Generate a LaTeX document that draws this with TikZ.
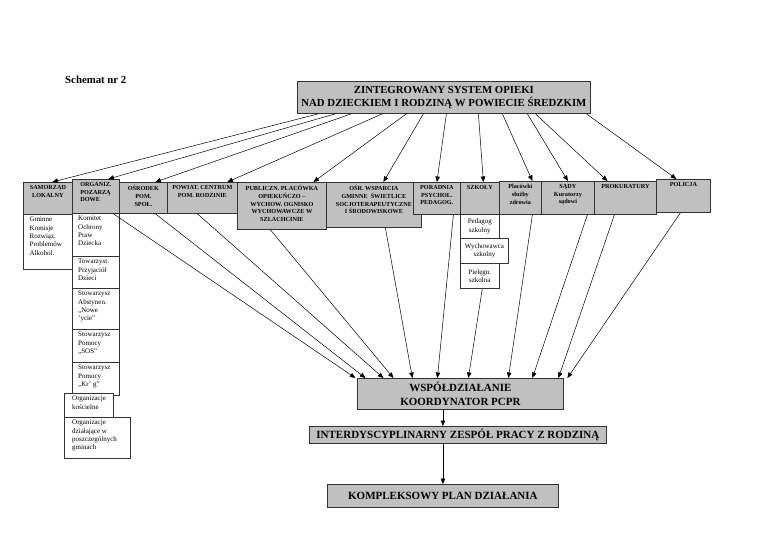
\documentclass[tikz,border=0pt]{standalone}
\usepackage{fontspec}
\setmainfont{Liberation Serif}
\usetikzlibrary{arrows.meta}
\definecolor{boxgray}{RGB}{192,192,192}
\tikzset{
	hdr/.style={draw=black!80, fill=boxgray, line width=0.8pt, inner sep=0pt, anchor=north west},
	cell/.style={draw=black!80, fill=white, line width=0.6pt, inner sep=0pt, anchor=north west},
	htext/.style={anchor=north, yshift=-2.5pt, inner sep=0.5pt, align=center, font=\bfseries\fontsize{6.2}{7.8}\selectfont},
	ctext/.style={anchor=north west, xshift=6pt, yshift=-2.5pt, inner sep=0.5pt, align=left, font=\fontsize{7}{8.3}\selectfont},
	arr/.style={-{Triangle[length=5.5pt,width=4.5pt]}, line width=0.5pt}
}

\begin{document}
\begin{tikzpicture}[x=1pt, y=-1pt]
\useasboundingbox (0,0) rectangle (768,543);

\node[anchor=west, inner sep=0pt, font=\bfseries\fontsize{10.8}{13}\selectfont] (title) at (65,80) {Schemat nr 2};

\node[hdr, minimum width=293pt, minimum height=32pt, align=center, font=\bfseries\fontsize{10.8}{13}\selectfont] (main) at (297,81) {ZINTEGROWANY SYSTEM OPIEKI\\NAD DZIECKIEM I RODZINĄ W POWIECIE ŚREDZKIM};

\node[hdr, minimum width=49pt, minimum height=32pt, label={[htext]north:{SAMORZĄD\\LOKALNY}}] (samorz) at (23,182) {};
\node[cell, minimum width=49pt, minimum height=55pt, label={[ctext]north west:{Gminne\\Komisje\\Rozwiąz.\\Problemów\\Alkohol.}}] (gminne) at (23,214) {};

\node[hdr, minimum width=47pt, minimum height=34pt, label={[htext, align=left]north:{ORGANIZ.\\POZARZĄ\\DOWE}}] (organiz) at (72,179) {};
\node[cell, minimum width=47.5pt, minimum height=43pt, label={[ctext]north west:{Komitet\\Ochrony\\Praw\\Dziecka}}] (komitet) at (71.5,213) {};
\node[cell, minimum width=47.5pt, minimum height=32pt, label={[ctext]north west:{Towarzyst.\\Przyjaciół\\Dzieci}}] (towarz) at (71.5,256) {};
\node[cell, minimum width=47.5pt, minimum height=41pt, label={[ctext]north west:{Stowarzysz\\Abstynen.\\„Nowe\\’ycie”}}] (abstyn) at (71.5,288) {};
\node[cell, minimum width=47.5pt, minimum height=33pt, label={[ctext]north west:{Stowarzysz\\Pomocy\\„SOS”}}] (sos) at (71.5,329) {};
\node[cell, minimum width=47.5pt, minimum height=33pt, label={[ctext]north west:{Stowarzysz\\Pomocy\\„Kr’ g”}}] (krag) at (71.5,362) {};
\node[cell, minimum width=49pt, minimum height=24pt, label={[ctext, xshift=1.5pt]north west:{Organizacje\\kościelne}}] (koscielne) at (64,393) {};
\node[cell, minimum width=66pt, minimum height=41pt, label={[ctext, xshift=1.5pt]north west:{Organizacje\\działające w\\poszczególnych\\gminach}}] (dzialajace) at (64,417) {};

\node[hdr, minimum width=48pt, minimum height=31pt, label={[htext]north:{OŚRODEK\\POM.\\SPOŁ.}}] (osrodek) at (119,182) {};
\node[hdr, minimum width=70pt, minimum height=31pt, label={[htext]north:{POWIAT. CENTRUM\\POM. RODZINIE}}] (powiat) at (167,182) {};
\node[hdr, minimum width=89pt, minimum height=47pt, label={[htext]north:{PUBLICZN. PLACÓWKA\\OPIEKUŃCZO –\\WYCHOW. OGNISKO\\WYCHOWAWCZE W\\SZLACHCINIE}}] (publiczn) at (237,182) {};
\node[hdr, minimum width=95pt, minimum height=45pt, label={[htext]north:{OŚR. WSPARCIA\\GMINNE \ ŚWIETLICE\\SOCJOTERAPEUTYCZNE\\I ŚRODOWISKOWE}}] (osr) at (326,182) {};
\node[hdr, minimum width=47pt, minimum height=32pt, label={[htext]north:{PORADNIA\\PSYCHOL.\\PEDAGOG.}}] (poradnia) at (413,182) {};

\node[hdr, minimum width=39pt, minimum height=32pt, label={[htext]north:{SZKOŁY}}] (szkoly) at (460,182) {};
\node[cell, minimum width=39pt, minimum height=24pt, align=center, font=\fontsize{7}{8.3}\selectfont] (pedagog) at (460,214) {Pedagog\\szkolny};
\node[cell, minimum width=39pt, minimum height=25pt, align=center, font=\fontsize{7}{8.3}\selectfont] (pielegn) at (460,263) {Pielęgn.\\szkolna};
\node[cell, line width=0.9pt, minimum width=48pt, minimum height=25pt, align=center, font=\fontsize{7}{8.3}\selectfont] (wychow) at (460,238) {Wychowawca\\szkolny};

\node[hdr, minimum width=42pt, minimum height=33pt, label={[htext]north:{Placówki\\służby\\zdrowia}}] (placowki) at (499,181) {};
\node[hdr, minimum width=53pt, minimum height=33pt, label={[htext]north:{SĄDY\\Kuratorzy\\sądowi}}] (sady) at (541,181) {};
\node[hdr, minimum width=62pt, minimum height=33pt, label={[htext]north:{PROKURATURY}}] (prokur) at (594,181) {};
\node[hdr, minimum width=54pt, minimum height=33pt, label={[htext]north:{POLICJA}}] (policja) at (656,179) {};

\node[hdr, minimum width=206pt, minimum height=31pt, align=center, font=\bfseries\fontsize{11}{14}\selectfont] (wsp) at (357,378) {WSPÓŁDZIAŁANIE\\KOORDYNATOR PCPR};
\node[hdr, minimum width=297pt, minimum height=17pt, font=\bfseries\fontsize{11}{14}\selectfont] (interd) at (309,426) {INTERDYSCYPLINARNY ZESPÓŁ PRACY Z RODZINĄ};
\node[hdr, minimum width=231pt, minimum height=23pt, font=\bfseries\fontsize{11}{14}\selectfont] (kompl) at (327,484) {KOMPLEKSOWY PLAN DZIAŁANIA};

\draw[arr] ([xshift=-125.5pt]main.south) -- ([xshift=4.5pt]samorz.north);
\draw[arr] ([xshift=-108.5pt]main.south) -- ([xshift=12.5pt]organiz.north);
\draw[arr] ([xshift=-92.5pt]main.south) -- ([xshift=12pt]osrodek.north);
\draw[arr] ([xshift=-61.5pt]main.south) -- ([xshift=25pt]powiat.north);
\draw[arr] ([xshift=-37.5pt]main.south) -- ([xshift=31.5pt]publiczn.north);
\draw[arr] ([xshift=-20.5pt]main.south) -- ([xshift=9.5pt]osr.north);
\draw[arr] ([xshift=2.5pt]main.south) -- (poradnia.north);
\draw[arr] ([xshift=34.5pt]main.south) -- ([xshift=3.5pt]szkoly.north);
\draw[arr] ([xshift=58.5pt]main.south) -- ([xshift=12pt]placowki.north);
\draw[arr] ([xshift=83.5pt]main.south) -- (sady.north);
\draw[arr] ([xshift=91.5pt]main.south) -- ([xshift=-18pt]prokur.north);
\draw[arr] ([xshift=142.5pt]main.south) -- ([xshift=-7pt]policja.north);

\draw[arr] ([xshift=17.5pt]organiz.south) -- ([xshift=-105pt]wsp.north);
\draw[arr] ([xshift=12pt]osrodek.south) -- ([xshift=-95pt]wsp.north);
\draw[arr] ([xshift=-5pt]powiat.south) -- ([xshift=-77pt]wsp.north);
\draw[arr] ([xshift=-11.5pt]publiczn.south) -- ([xshift=-67pt]wsp.north);
\draw[arr] ([xshift=11.5pt]osr.south) -- ([xshift=-48pt]wsp.north);
\draw[arr] ([xshift=16.5pt]poradnia.south) -- ([xshift=-23pt]wsp.north);
\draw[arr] ([xshift=2.5pt]pielegn.south) -- ([xshift=8pt]wsp.north);
\draw[arr] ([xshift=12pt]placowki.south) -- ([xshift=48pt]wsp.north);
\draw[arr] ([xshift=19.5pt]sady.south) -- ([xshift=72pt]wsp.north);
\draw[arr] ([xshift=-11pt]prokur.south) -- ([xshift=98pt]wsp.north);
\draw[arr] ([xshift=-3pt]policja.south) -- ([xshift=107pt]wsp.north);

\draw[arr] (wsp.south -| kompl.north) -- (interd.north -| kompl.north);
\draw[arr] (interd.south -| kompl.north) -- (kompl.north);
\end{tikzpicture}
\end{document}
